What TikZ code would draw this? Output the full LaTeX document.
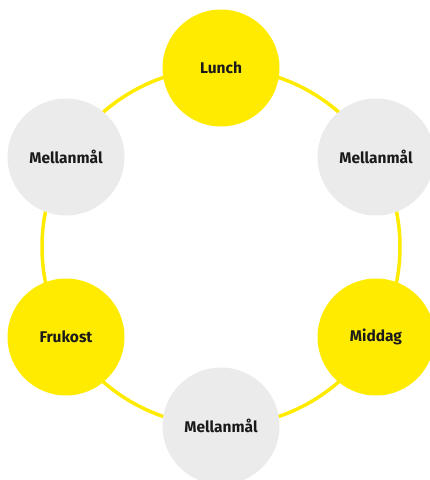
\documentclass[tikz,border=0pt]{standalone}
\usepackage{fontspec}
\setmainfont{Fira Sans}
\definecolor{mealyellow}{HTML}{FFEB00}
\definecolor{snackgray}{HTML}{EBEBEB}
\definecolor{labeltext}{HTML}{1A1A1A}
\begin{document}
\begin{tikzpicture}[x=1pt,y=-1pt,
  meal/.style={circle,fill=mealyellow,minimum size=117pt,inner sep=0pt,text=labeltext,font=\fontsize{15.5}{18}\selectfont\bfseries},
  snack/.style={meal,fill=snackgray},
  ring/.style={draw=mealyellow,line width=3.5pt}]
\useasboundingbox (0,0) rectangle (430,480);
\begin{scope}
\clip (0,0) rectangle (430,480);
\coordinate (c) at (221,247);
\draw[ring] (c) circle[radius=179pt];
\node[meal]  (lunch)   at (221,68)  {Lunch};
\node[snack] (snackr)  at (376,157) {Mellanmål};
\node[meal]  (middag)  at (376,337) {Middag};
\node[snack] (snackb)  at (221,426) {Mellanmål};
\node[meal]  (frukost) at (66,337)  {Frukost};
\node[snack] (snackl)  at (66,157)  {Mellanmål};
\end{scope}
\end{tikzpicture}
\end{document}
